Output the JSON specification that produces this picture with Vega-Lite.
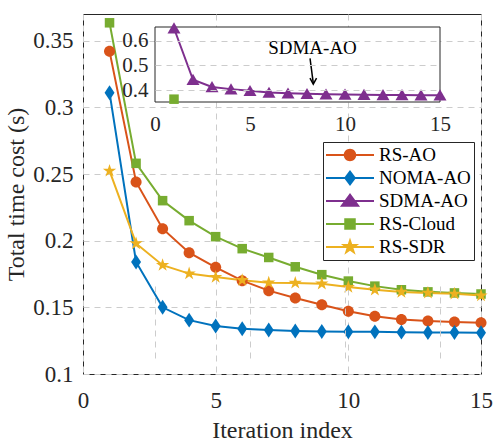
{
  "$schema": "https://vega.github.io/schema/vega-lite/v6.json",
  "width": 398,
  "height": 360,
  "autosize": {"type": "none"},
  "padding": {"left": 83, "top": 14, "right": 16, "bottom": 67},
  "background": "white",
  "config": {
    "view": {"stroke": "#262626", "strokeWidth": 1},
    "font": "Liberation Serif",
    "axis": {
      "labelFont": "Liberation Serif",
      "titleFont": "Liberation Serif",
      "labelColor": "#262626",
      "titleColor": "#262626",
      "titleFontWeight": "normal",
      "gridColor": "#cccccc",
      "gridDash": [6, 5],
      "gridWidth": 1,
      "ticks": false,
      "domain": false,
      "labelFlush": false,
      "labelOverlap": false
    }
  },
  "data": {
    "values": [
      {"s": "RS-AO", "x": 1, "y": 0.342}, {"s": "RS-AO", "x": 2, "y": 0.244}, {"s": "RS-AO", "x": 3, "y": 0.209},
      {"s": "RS-AO", "x": 4, "y": 0.191}, {"s": "RS-AO", "x": 5, "y": 0.180}, {"s": "RS-AO", "x": 6, "y": 0.170},
      {"s": "RS-AO", "x": 7, "y": 0.1625}, {"s": "RS-AO", "x": 8, "y": 0.157}, {"s": "RS-AO", "x": 9, "y": 0.152},
      {"s": "RS-AO", "x": 10, "y": 0.147}, {"s": "RS-AO", "x": 11, "y": 0.1433}, {"s": "RS-AO", "x": 12, "y": 0.1408},
      {"s": "RS-AO", "x": 13, "y": 0.1398}, {"s": "RS-AO", "x": 14, "y": 0.139}, {"s": "RS-AO", "x": 15, "y": 0.1384},
      {"s": "NOMA-AO", "x": 1, "y": 0.311}, {"s": "NOMA-AO", "x": 2, "y": 0.184}, {"s": "NOMA-AO", "x": 3, "y": 0.150},
      {"s": "NOMA-AO", "x": 4, "y": 0.1404}, {"s": "NOMA-AO", "x": 5, "y": 0.136}, {"s": "NOMA-AO", "x": 6, "y": 0.134},
      {"s": "NOMA-AO", "x": 7, "y": 0.133}, {"s": "NOMA-AO", "x": 8, "y": 0.1322}, {"s": "NOMA-AO", "x": 9, "y": 0.1318},
      {"s": "NOMA-AO", "x": 10, "y": 0.1317}, {"s": "NOMA-AO", "x": 11, "y": 0.1316}, {"s": "NOMA-AO", "x": 12, "y": 0.1314},
      {"s": "NOMA-AO", "x": 13, "y": 0.1312}, {"s": "NOMA-AO", "x": 14, "y": 0.1311}, {"s": "NOMA-AO", "x": 15, "y": 0.131},
      {"s": "SDMA-AO", "x": 1, "y": 0.650}, {"s": "SDMA-AO", "x": 2, "y": 0.442}, {"s": "SDMA-AO", "x": 3, "y": 0.413},
      {"s": "SDMA-AO", "x": 4, "y": 0.404}, {"s": "SDMA-AO", "x": 5, "y": 0.397}, {"s": "SDMA-AO", "x": 6, "y": 0.390},
      {"s": "SDMA-AO", "x": 7, "y": 0.387}, {"s": "SDMA-AO", "x": 8, "y": 0.385}, {"s": "SDMA-AO", "x": 9, "y": 0.383},
      {"s": "SDMA-AO", "x": 10, "y": 0.382}, {"s": "SDMA-AO", "x": 11, "y": 0.381}, {"s": "SDMA-AO", "x": 12, "y": 0.380},
      {"s": "SDMA-AO", "x": 13, "y": 0.380}, {"s": "SDMA-AO", "x": 14, "y": 0.379}, {"s": "SDMA-AO", "x": 15, "y": 0.379},
      {"s": "RS-Cloud", "x": 1, "y": 0.3634}, {"s": "RS-Cloud", "x": 2, "y": 0.258}, {"s": "RS-Cloud", "x": 3, "y": 0.230},
      {"s": "RS-Cloud", "x": 4, "y": 0.215}, {"s": "RS-Cloud", "x": 5, "y": 0.203}, {"s": "RS-Cloud", "x": 6, "y": 0.194},
      {"s": "RS-Cloud", "x": 7, "y": 0.1874}, {"s": "RS-Cloud", "x": 8, "y": 0.1804}, {"s": "RS-Cloud", "x": 9, "y": 0.1745},
      {"s": "RS-Cloud", "x": 10, "y": 0.1697}, {"s": "RS-Cloud", "x": 11, "y": 0.1659}, {"s": "RS-Cloud", "x": 12, "y": 0.1632},
      {"s": "RS-Cloud", "x": 13, "y": 0.1616}, {"s": "RS-Cloud", "x": 14, "y": 0.1608}, {"s": "RS-Cloud", "x": 15, "y": 0.160},
      {"s": "RS-SDR", "x": 1, "y": 0.2523}, {"s": "RS-SDR", "x": 2, "y": 0.1979}, {"s": "RS-SDR", "x": 3, "y": 0.1816},
      {"s": "RS-SDR", "x": 4, "y": 0.1753}, {"s": "RS-SDR", "x": 5, "y": 0.1727}, {"s": "RS-SDR", "x": 6, "y": 0.1704},
      {"s": "RS-SDR", "x": 7, "y": 0.1685}, {"s": "RS-SDR", "x": 8, "y": 0.1683}, {"s": "RS-SDR", "x": 9, "y": 0.1677},
      {"s": "RS-SDR", "x": 10, "y": 0.1652}, {"s": "RS-SDR", "x": 11, "y": 0.1632}, {"s": "RS-SDR", "x": 12, "y": 0.1615},
      {"s": "RS-SDR", "x": 13, "y": 0.1608}, {"s": "RS-SDR", "x": 14, "y": 0.1601}, {"s": "RS-SDR", "x": 15, "y": 0.1588}
    ]
  },
  "layer": [
    {
      "transform": [{"filter": "datum.s !== 'SDMA-AO'"}],
      "encoding": {
        "x": {
          "field": "x", "type": "quantitative",
          "scale": {"domain": [0, 15], "nice": false},
          "axis": {"values": [0, 5, 10, 15], "title": "Iteration index", "titleFontSize": 24, "labelFontSize": 23,
                   "grid": true, "labelPadding": 15, "titlePadding": 6}
        },
        "y": {
          "field": "y", "type": "quantitative",
          "scale": {"domain": [0.1, 0.37], "nice": false, "zero": false},
          "axis": {"values": [0.1, 0.15, 0.2, 0.25, 0.3, 0.35], "format": "~g", "title": "Total time cost (s)",
                   "titleFontSize": 24, "labelFontSize": 23, "grid": true, "labelPadding": 10, "titlePadding": 4}
        },
        "color": {
          "field": "s", "type": "nominal",
          "scale": {"domain": ["RS-AO", "NOMA-AO", "SDMA-AO", "RS-Cloud", "RS-SDR"],
                    "range": ["#D95319", "#0072BD", "#7E2F8E", "#77AC30", "#EDB120"]},
          "legend": {
            "title": null, "orient": "none", "legendX": 240, "legendY": 128,
            "padding": 3, "rowPadding": 3, "labelOffset": 5, "symbolOffset": 0, "clipHeight": 20,
            "symbolSize": 2304, "symbolStrokeWidth": 0,
            "labelFont": "Liberation Serif", "labelFontSize": 19, "labelColor": "#000000",
            "strokeColor": "#262626", "fillColor": "white"
          }
        }
      },
      "layer": [
        {"mark": {"type": "line", "strokeWidth": 2}},
        {
          "transform": [{"filter": "datum.s === 'RS-AO'"}],
          "mark": {"type": "point", "filled": true, "opacity": 1, "size": 196, "shape": "M-0.79,0A0.79,0.79 0 1 1 0.79,0A0.79,0.79 0 1 1 -0.79,0Z"}
        },
        {
          "transform": [{"filter": "datum.s === 'NOMA-AO'"}],
          "mark": {"type": "point", "filled": true, "opacity": 1, "size": 196, "shape": "M0,-1.07L0.71,0L0,1.07L-0.71,0Z"}
        },
        {
          "transform": [{"filter": "datum.s === 'RS-Cloud'"}],
          "mark": {"type": "point", "filled": true, "opacity": 1, "size": 196, "shape": "M-0.68,-0.68H0.68V0.68H-0.68Z"}
        },
        {
          "transform": [{"filter": "datum.s === 'RS-SDR'"}],
          "mark": {"type": "point", "filled": true, "opacity": 1, "size": 196, "shape": "M0,-1L0.224,-0.309L0.951,-0.309L0.363,0.118L0.588,0.809L0,0.382L-0.588,0.809L-0.363,0.118L-0.951,-0.309L-0.224,-0.309Z"}
        },
        {
          "transform": [{"filter": "datum.x > 100"}],
          "mark": {"type": "point", "filled": true, "opacity": 1},
          "encoding": {
            "shape": {
              "field": "s", "type": "nominal",
              "scale": {
                "domain": ["RS-AO", "NOMA-AO", "SDMA-AO", "RS-Cloud", "RS-SDR"],
                "range": [
                  "M-1,-0.042H1V0.042H-1ZM-0.26,0A0.26,0.26 0 1 1 0.26,0A0.26,0.26 0 1 1 -0.26,0Z",
                  "M-1,-0.042H1V0.042H-1ZM0,-0.33L0.25,0L0,0.33L-0.25,0Z",
                  "M-1,-0.042H1V0.042H-1ZM0,-0.33L0.42,0.24L-0.42,0.24Z",
                  "M-1,-0.042H1V0.042H-1ZM-0.24,-0.24H0.24V0.24H-0.24Z",
                  "M-1,-0.042H1V0.042H-1ZM0,-0.4L0.09,-0.124L0.38,-0.124L0.146,0.047L0.235,0.324L0,0.153L-0.235,0.324L-0.146,0.047L-0.38,-0.124L-0.09,-0.124Z"
                ]
              }
            }
          }
        }
      ]
    },
    {
      "encoding": {
        "x": {
          "field": "x", "type": "quantitative",
          "scale": {"domain": [0, 15], "range": [72, 357], "nice": false},
          "axis": {"orient": "bottom", "offset": -272, "values": [0, 5, 10, 15], "title": null, "labelFontSize": 21,
                   "grid": true, "labelPadding": 11, "zindex": 1}
        },
        "y": {
          "field": "y", "type": "quantitative",
          "scale": {"domain": [0.352, 0.655], "range": [88, 13], "nice": false, "zero": false},
          "axis": {"orient": "left", "offset": -72, "values": [0.4, 0.5, 0.6], "format": "~g", "title": null, "labelFontSize": 21,
                   "grid": true, "labelPadding": 7, "zindex": 1}
        }
      },
      "layer": [
        {
          "transform": [{"filter": "datum.s === 'SDMA-AO' && datum.x === 1"}],
          "mark": {"type": "rect", "fill": "white", "stroke": "#262626", "strokeWidth": 1},
          "encoding": {"x": {"datum": 0}, "x2": {"datum": 15}, "y": {"datum": 0.352}, "y2": {"datum": 0.655}}
        },
        {
          "transform": [{"filter": "datum.y >= 0.352 && datum.y <= 0.66"}],
          "mark": {"type": "line", "strokeWidth": 2},
          "encoding": {"color": {"field": "s", "type": "nominal", "legend": null}}
        },
        {
          "transform": [{"filter": "datum.s === 'SDMA-AO'"}],
          "mark": {"type": "point", "filled": true, "opacity": 1, "size": 196, "shape": "M0,-0.85L0.93,0.75L-0.93,0.75Z"},
          "encoding": {"color": {"field": "s", "type": "nominal", "legend": null}}
        },
        {
          "transform": [{"filter": "datum.s === 'RS-Cloud' && datum.y >= 0.352"}],
          "mark": {"type": "point", "filled": true, "opacity": 1, "size": 196, "shape": "M-0.68,-0.68H0.68V0.68H-0.68Z"},
          "encoding": {"color": {"field": "s", "type": "nominal", "legend": null}}
        },
        {
          "transform": [{"filter": "datum.s === 'SDMA-AO' && datum.x === 1"}],
          "mark": {"type": "text", "fontSize": 19, "font": "Liberation Serif", "color": "#000000", "align": "center", "baseline": "middle"},
          "encoding": {"x": {"datum": 8.29}, "y": {"datum": 0.569}, "text": {"value": "SDMA-AO"}}
        },
        {
          "transform": [{"filter": "datum.s === 'SDMA-AO' && datum.x === 1"}],
          "mark": {"type": "rule", "color": "#000000", "strokeWidth": 1.5},
          "encoding": {"x": {"datum": 8.16}, "x2": {"datum": 8.33}, "y": {"datum": 0.528}, "y2": {"datum": 0.428}}
        },
        {
          "transform": [{"filter": "datum.s === 'SDMA-AO' && datum.x === 1"}],
          "mark": {"type": "point", "shape": "M-0.55,-1L0,0L0.55,-1", "filled": false, "strokeWidth": 1.5, "color": "#000000", "opacity": 1, "size": 144},
          "encoding": {"x": {"datum": 8.33}, "y": {"datum": 0.424}}
        }
      ]
    }
  ],
  "resolve": {"scale": {"x": "independent", "y": "independent"}}
}
